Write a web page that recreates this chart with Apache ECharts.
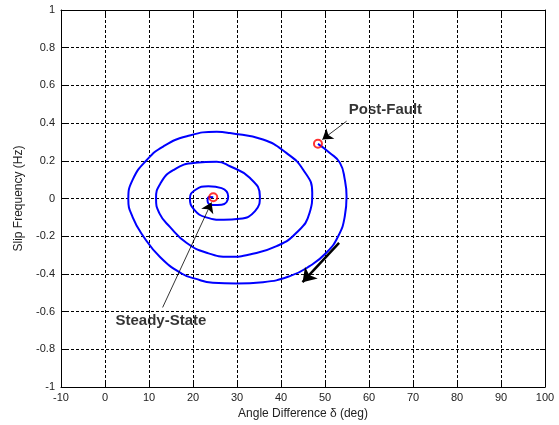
<!DOCTYPE html>
<html>
<head>
<meta charset="utf-8">
<script src="https://cdn.jsdelivr.net/npm/echarts@6/dist/echarts.min.js"></script>
<style>
html,body{margin:0;padding:0;background:#fff;}
#chart{width:559px;height:425px;}
</style>
</head>
<body>
<div id="chart"></div>
<script>
// Trajectory (angle difference in deg, slip frequency in Hz)
var deltaDeg = [48.4, 51.1, 53.4, 54.5, 54.9, 54.5, 53.0, 50.3, 46.5, 42.0, 35.9, 29.9, 24.5, 20.5, 17.4, 12.5, 8.7, 6.3, 5.3, 6.3, 9.6, 13.3, 18.6, 25.4, 28.4, 35.9, 41.2, 45.0, 47.1, 46.5, 43.5, 39.0, 32.9, 28.4, 23.1, 18.5, 14.8, 12.4, 11.6, 12.6, 15.5, 20.5, 25.4, 28.4, 32.9, 35.2, 34.1, 30.6, 27.0, 23.0, 20.3, 19.3, 20.5, 23.5, 26.5, 28.0, 26.5, 24.5, 23.3, 23.7, 24.6];
var slipHz   = [0.29, 0.242, 0.189, 0.1, 0.01, -0.094, -0.2, -0.288, -0.359, -0.412, -0.444, -0.451, -0.447, -0.425, -0.398, -0.31, -0.2, -0.1, -0.005, 0.1, 0.207, 0.277, 0.33, 0.354, 0.347, 0.313, 0.242, 0.154, 0.03, -0.076, -0.182, -0.253, -0.297, -0.309, -0.288, -0.235, -0.152, -0.08, 0, 0.08, 0.15, 0.19, 0.195, 0.171, 0.11, 0.012, -0.067, -0.108, -0.113, -0.1, -0.06, 0, 0.045, 0.065, 0.055, 0.01, -0.033, -0.035, -0.012, 0.008, 0.007];

// Marked states
var stateNames = ['Post-Fault', 'Steady-State'];
var stateDelta = [48.4, 24.6];
var stateSlip  = [0.29, 0.007];

// Annotation arrows: [fromX, fromY, toX, toY]
var postFaultArrow   = [54.9, 0.41, 49.4, 0.313];
var steadyStateArrow = [13.1, -0.578, 24.2, -0.021];
var directionArrow   = [53.2, -0.235, 44.9, -0.444];
// Annotation text anchors
var textX = [55.4, 12.7];
var textY = [0.472, -0.647];

// Axis ranges / ticks
var xMin = -10, xMax = 100, xStep = 10;
var yMin = -1, yMax = 1, yStep = 0.2;

var trajectory = deltaDeg.map(function (d, i) { return [d, slipHz[i]]; });
var states = stateDelta.map(function (d, i) { return [d, stateSlip[i]]; });
var texts = textX.map(function (x, i) { return [x, textY[i], stateNames[i]]; });

var FONT = 'Liberation Sans, Arial, sans-serif';
var gridLine = { show: true, lineStyle: { color: '#000', width: 1, type: [3, 2] } };
var frame = { show: true, onZero: false, lineStyle: { color: '#000', width: 1 } };
var ticks = { show: true, inside: true, length: 5, lineStyle: { color: '#000' } };

function fmtY(v) {
  var r = Math.round(v * 10) / 10;
  if (Math.abs(r) < 1e-9) return '0';
  return String(r);
}

var chart = echarts.init(document.getElementById('chart'), null, { renderer: 'canvas' });
chart.setOption({
  animation: false,
  backgroundColor: '#fff',
  grid: { left: 61, right: 14, top: 10, bottom: 38, containLabel: false },
  xAxis: [{
    type: 'value', min: xMin, max: xMax, interval: xStep, position: 'bottom',
    name: 'Angle Difference \u03b4 (deg)', nameLocation: 'middle', nameGap: 20,
    nameTextStyle: { color: '#222', fontSize: 12, fontFamily: FONT },
    axisLine: frame, axisTick: ticks, splitLine: gridLine,
    axisLabel: { color: '#222', fontSize: 11, fontFamily: FONT, margin: 5 }
  }, {
    type: 'value', min: xMin, max: xMax, interval: xStep, position: 'top',
    axisLine: frame, axisTick: ticks, splitLine: { show: false }, axisLabel: { show: false }
  }],
  yAxis: [{
    type: 'value', min: yMin, max: yMax, interval: yStep, position: 'left',
    name: 'Slip Frequency (Hz)', nameLocation: 'middle', nameGap: 33,
    nameTextStyle: { color: '#222', fontSize: 12, fontFamily: FONT },
    axisLine: frame, axisTick: ticks, splitLine: gridLine,
    axisLabel: { color: '#222', fontSize: 11, fontFamily: FONT, margin: 6, formatter: fmtY }
  }, {
    type: 'value', min: yMin, max: yMax, interval: yStep, position: 'right',
    axisLine: frame, axisTick: ticks, splitLine: { show: false }, axisLabel: { show: false }
  }],
  series: [{
    type: 'line', xAxisIndex: 0, yAxisIndex: 0,
    data: trajectory, smooth: 0.5, showSymbol: false, symbol: 'none',
    lineStyle: { color: '#0000ff', width: 2 }, silent: true, z: 3
  }, {
    type: 'scatter', xAxisIndex: 0, yAxisIndex: 0,
    data: states, symbol: 'circle', symbolSize: 8,
    itemStyle: { color: 'rgba(0,0,0,0)', borderColor: '#ff0000', borderWidth: 2 },
    silent: true, z: 4,
    markLine: {
      silent: true, animation: false, precision: 4,
      label: { show: false },
      symbol: ['none', 'arrow'],
      data: [
        [{ coord: [postFaultArrow[0], postFaultArrow[1]], symbolSize: 0, lineStyle: { color: '#000', width: 0.8, type: 'solid' } },
         { coord: [postFaultArrow[2], postFaultArrow[3]], symbolSize: 10 }],
        [{ coord: [steadyStateArrow[0], steadyStateArrow[1]], symbolSize: 0, lineStyle: { color: '#000', width: 0.8, type: 'solid' } },
         { coord: [steadyStateArrow[2], steadyStateArrow[3]], symbolSize: 10 }],
        [{ coord: [directionArrow[0], directionArrow[1]], symbolSize: 0, lineStyle: { color: '#000', width: 2.5, type: 'solid' } },
         { coord: [directionArrow[2], directionArrow[3]], symbolSize: 13 }]
      ],
      lineStyle: { color: '#000', type: 'solid' },
      itemStyle: { color: '#000' }
    }
  }, {
    type: 'scatter', xAxisIndex: 0, yAxisIndex: 0,
    data: texts, symbolSize: 1, itemStyle: { color: 'rgba(0,0,0,0)' }, silent: true, z: 5,
    label: {
      show: true, position: 'inside', color: '#000', fontWeight: 'bold', fontSize: 15, fontFamily: FONT,
      formatter: function (p) { return p.data[2]; }
    },
    labelLayout: function (p) {
      if (p.dataIndex === 0) return { align: 'left' };
      return { align: 'center' };
    }
  }]
});
</script>
</body>
</html>
